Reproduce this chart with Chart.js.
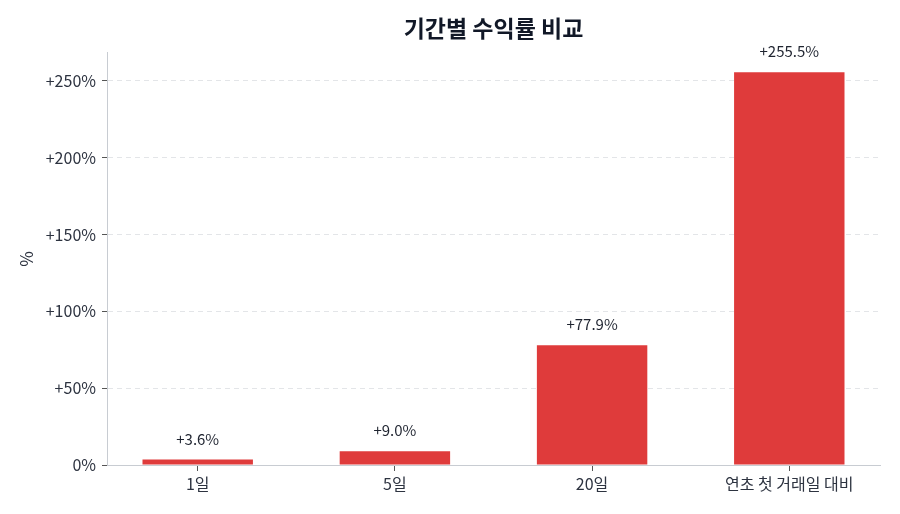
<!DOCTYPE html>
<html>
<head>
<meta charset="utf-8">
<script src="https://cdn.jsdelivr.net/npm/chart.js@4"></script>
<style>
  html, body { margin: 0; padding: 0; background: #fff; }
  #wrap { width: 900px; height: 514px; }
</style>
</head>
<body>
<div id="wrap"><canvas id="returnChart" width="900" height="514"></canvas></div>
<script>
// 기간별 수익률 데이터
const categories = ['1일', '5일', '20일', '연초 첫 거래일 대비'];
const returns = [3.6, 9.0, 77.9, 255.5];
const yTicks = [0, 50, 100, 150, 200, 250];

const FONT = "'Noto Sans CJK KR', 'Noto Sans', sans-serif";
const barColor = '#DF3B3B';

// 막대 위에 값 표시
const valueLabels = {
    id: 'valueLabels',
    afterDatasetsDraw(chart) {
        const ctx = chart.ctx;
        const meta = chart.getDatasetMeta(0);
        ctx.save();
        ctx.font = '15px ' + FONT;
        ctx.fillStyle = '#1f2430';
        ctx.textAlign = 'center';
        ctx.textBaseline = 'bottom';
        meta.data.forEach((bar, i) => {
            ctx.fillText('+' + returns[i].toFixed(1) + '%', bar.x, bar.y - 13);
        });
        ctx.restore();
    }
};

const ctx = document.getElementById('returnChart').getContext('2d');
new Chart(ctx, {
    type: 'bar',
    data: {
        datasets: [{
            data: returns.map((v, i) => ({ x: i, y: v })),
            backgroundColor: barColor,
            borderWidth: 0,
            barPercentage: 0.56,
            categoryPercentage: 1
        }]
    },
    options: {
        responsive: false,
        animation: false,
        layout: { padding: { left: 0, right: 20, top: 0, bottom: 0 } },
        plugins: {
            legend: { display: false },
            tooltip: { enabled: false },
            title: {
                display: true,
                fullSize: false,
                text: '기간별 수익률 비교',
                color: '#111827',
                font: { family: FONT, size: 23, weight: 'bold' },
                padding: { top: 14, bottom: 11 }
            }
        },
        scales: {
            x: {
                type: 'linear',
                offset: false,
                min: -0.46,
                max: 3.46,
                afterBuildTicks: s => { s.ticks = categories.map((c, i) => ({ value: i })); },
                afterFit: s => { s.height = 49; },
                ticks: {
                    callback: (v) => categories[v],
                    color: '#2d3340',
                    font: { family: FONT, size: 16 },
                    padding: 3,
                    autoSkip: false,
                    maxRotation: 0
                },
                grid: { drawOnChartArea: false, offset: false, tickLength: 6, color: '#555' },
                border: { color: '#c8ccd2' }
            },
            y: {
                min: 0,
                max: 268.3,
                afterBuildTicks: s => { s.ticks = yTicks.map(v => ({ value: v })); },
                afterFit: s => { s.width = 107; },
                title: {
                    display: true,
                    text: '%',
                    color: '#2d3340',
                    font: { family: FONT, size: 17 },
                    padding: { top: 16, bottom: 0 }
                },
                ticks: {
                    callback: v => (v === 0 ? '0%' : '+' + v + '%'),
                    color: '#2d3340',
                    font: { family: FONT, size: 16 },
                    padding: 6
                },
                grid: {
                    color: '#e3e5e8',
                    tickLength: 5,
                    tickColor: '#555',
                    tickBorderDash: [],
                    drawTicks: true
                },
                border: { color: '#c8ccd2', dash: [5, 4] }
            }
        }
    },
    plugins: [valueLabels]
});
</script>
</body>
</html>
